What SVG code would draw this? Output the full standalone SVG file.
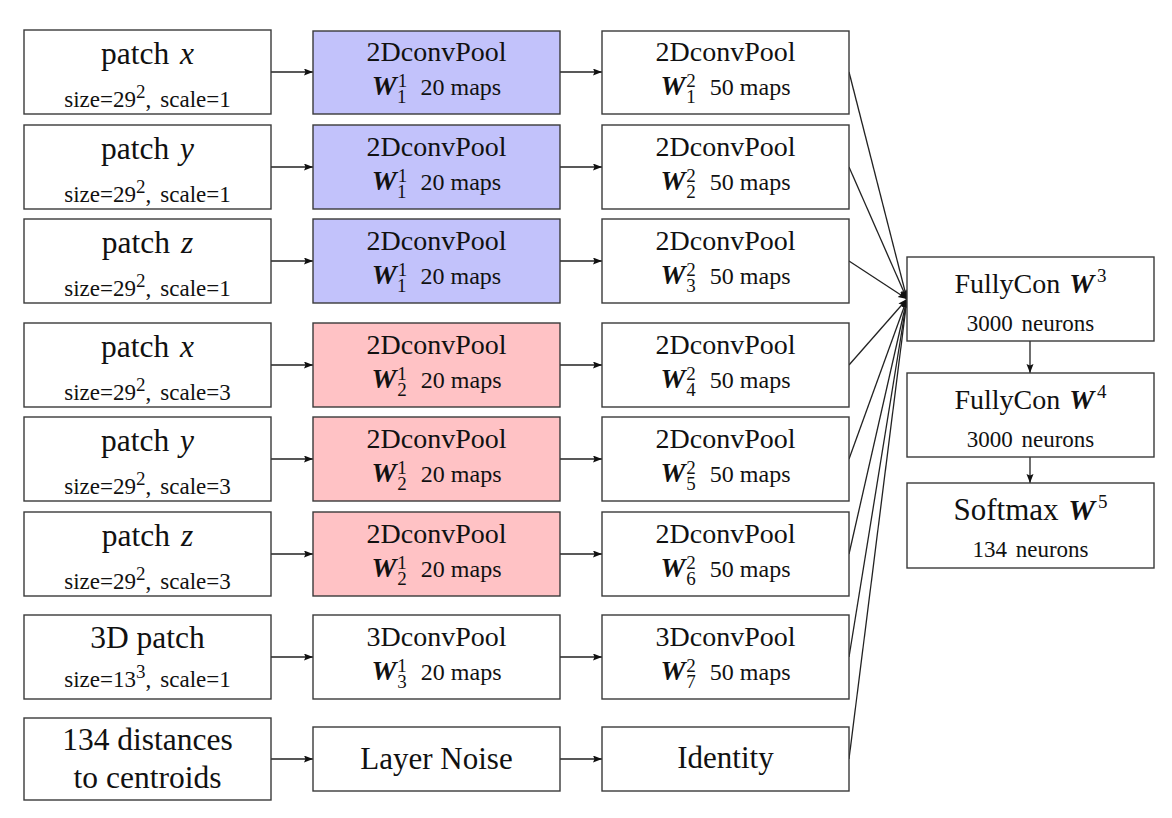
<svg xmlns="http://www.w3.org/2000/svg" width="1172" height="818" viewBox="0 0 1172 818">
<defs>
<marker id="ah" markerWidth="10" markerHeight="8" refX="9" refY="3.5" orient="auto" markerUnits="userSpaceOnUse">
<path d="M0,0 L9,3.5 L0,7 L1.5,3.5 z" fill="#111"/>
</marker>
<style>
.box{fill:#fff;stroke:#3a3a3a;stroke-width:1.4}
.blue{fill:#c2c2fb}
.red{fill:#ffc2c5}
text{font-family:"Liberation Serif","Times New Roman",serif;fill:#111;text-anchor:middle}
.t31{font-size:31.5px}
.t28{font-size:28px}
.t30{font-size:31px}
.s22{font-size:23px}
.s24{font-size:24px}
.it{font-style:italic}
.W{font-size:28px;font-weight:bold;font-style:italic}
.sc{font-size:19px}
.c line{stroke:#222;stroke-width:1.3;fill:none;marker-end:url(#ah)}
</style>
</defs>
<rect width="1172" height="818" fill="#fff"/>

<g id="connectors" class="c">
<line x1="271" y1="72" x2="313" y2="72"/>
<line x1="271" y1="167" x2="313" y2="167"/>
<line x1="271" y1="261" x2="313" y2="261"/>
<line x1="271" y1="365" x2="313" y2="365"/>
<line x1="271" y1="459" x2="313" y2="459"/>
<line x1="271" y1="554" x2="313" y2="554"/>
<line x1="271" y1="657" x2="313" y2="657"/>
<line x1="271" y1="759" x2="313" y2="759"/>
<line x1="560" y1="72" x2="602" y2="72"/>
<line x1="560" y1="167" x2="602" y2="167"/>
<line x1="560" y1="261" x2="602" y2="261"/>
<line x1="560" y1="365" x2="602" y2="365"/>
<line x1="560" y1="459" x2="602" y2="459"/>
<line x1="560" y1="554" x2="602" y2="554"/>
<line x1="560" y1="657" x2="602" y2="657"/>
<line x1="560" y1="759" x2="602" y2="759"/>
<line x1="849" y1="72" x2="907" y2="299"/>
<line x1="849" y1="167" x2="907" y2="299"/>
<line x1="849" y1="261" x2="907" y2="299"/>
<line x1="849" y1="365" x2="907" y2="299"/>
<line x1="849" y1="459" x2="907" y2="299"/>
<line x1="849" y1="554" x2="907" y2="299"/>
<line x1="849" y1="657" x2="907" y2="299"/>
<line x1="849" y1="759" x2="907" y2="299"/>
<line x1="1030" y1="341" x2="1030" y2="373"/>
<line x1="1030" y1="457" x2="1030" y2="483"/>
</g>

<!-- Left column -->
<g id="in1"><rect class="box" x="24" y="30" width="247" height="84"/>
<text class="t31" x="147.5" y="64">patch <tspan class="it" dx="3">x</tspan></text>
<text class="s22" x="147.5" y="107">size=29<tspan class="sc" dy="-9">2</tspan><tspan dy="9">,</tspan><tspan dx="9">scale=1</tspan></text></g>
<g id="in2"><rect class="box" x="24" y="125" width="247" height="84"/>
<text class="t31" x="147.5" y="159">patch <tspan class="it" dx="3">y</tspan></text>
<text class="s22" x="147.5" y="202">size=29<tspan class="sc" dy="-9">2</tspan><tspan dy="9">,</tspan><tspan dx="9">scale=1</tspan></text></g>
<g id="in3"><rect class="box" x="24" y="219" width="247" height="84"/>
<text class="t31" x="147.5" y="253">patch <tspan class="it" dx="3">z</tspan></text>
<text class="s22" x="147.5" y="296">size=29<tspan class="sc" dy="-9">2</tspan><tspan dy="9">,</tspan><tspan dx="9">scale=1</tspan></text></g>
<g id="in4"><rect class="box" x="24" y="323" width="247" height="84"/>
<text class="t31" x="147.5" y="357">patch <tspan class="it" dx="3">x</tspan></text>
<text class="s22" x="147.5" y="400">size=29<tspan class="sc" dy="-9">2</tspan><tspan dy="9">,</tspan><tspan dx="9">scale=3</tspan></text></g>
<g id="in5"><rect class="box" x="24" y="417" width="247" height="84"/>
<text class="t31" x="147.5" y="451">patch <tspan class="it" dx="3">y</tspan></text>
<text class="s22" x="147.5" y="494">size=29<tspan class="sc" dy="-9">2</tspan><tspan dy="9">,</tspan><tspan dx="9">scale=3</tspan></text></g>
<g id="in6"><rect class="box" x="24" y="512" width="247" height="84"/>
<text class="t31" x="147.5" y="546">patch <tspan class="it" dx="3">z</tspan></text>
<text class="s22" x="147.5" y="589">size=29<tspan class="sc" dy="-9">2</tspan><tspan dy="9">,</tspan><tspan dx="9">scale=3</tspan></text></g>
<g id="in7"><rect class="box" x="24" y="615" width="247" height="84"/>
<text class="t31" x="147.5" y="648">3D patch</text>
<text class="s22" x="147.5" y="687">size=13<tspan class="sc" dy="-9">3</tspan><tspan dy="9">,</tspan><tspan dx="9">scale=1</tspan></text></g>
<g id="in8"><rect class="box" x="24" y="718" width="247" height="82"/>
<text class="t31" x="147.5" y="750">134 distances</text>
<text class="t31" x="147.5" y="788">to centroids</text></g>

<!-- Middle column -->
<g id="c1_1"><rect class="box blue" x="313" y="31" width="247" height="83"/>
<text class="t28" x="436.5" y="61">2DconvPool</text>
<text class="s24" x="436.5" y="95"><tspan class="W">W</tspan><tspan class="sc" dx="1" dy="-8">1</tspan><tspan class="sc" dx="-9.5" dy="16">1</tspan><tspan dx="14" dy="-8">20</tspan><tspan dx="6">maps</tspan></text></g>
<g id="c1_2"><rect class="box blue" x="313" y="125" width="247" height="84"/>
<text class="t28" x="436.5" y="156">2DconvPool</text>
<text class="s24" x="436.5" y="190"><tspan class="W">W</tspan><tspan class="sc" dx="1" dy="-8">1</tspan><tspan class="sc" dx="-9.5" dy="16">1</tspan><tspan dx="14" dy="-8">20</tspan><tspan dx="6">maps</tspan></text></g>
<g id="c1_3"><rect class="box blue" x="313" y="219" width="247" height="84"/>
<text class="t28" x="436.5" y="250">2DconvPool</text>
<text class="s24" x="436.5" y="284"><tspan class="W">W</tspan><tspan class="sc" dx="1" dy="-8">1</tspan><tspan class="sc" dx="-9.5" dy="16">1</tspan><tspan dx="14" dy="-8">20</tspan><tspan dx="6">maps</tspan></text></g>
<g id="c1_4"><rect class="box red" x="313" y="323" width="247" height="84"/>
<text class="t28" x="436.5" y="354">2DconvPool</text>
<text class="s24" x="436.5" y="388"><tspan class="W">W</tspan><tspan class="sc" dx="1" dy="-8">1</tspan><tspan class="sc" dx="-9.5" dy="16">2</tspan><tspan dx="14" dy="-8">20</tspan><tspan dx="6">maps</tspan></text></g>
<g id="c1_5"><rect class="box red" x="313" y="417" width="247" height="84"/>
<text class="t28" x="436.5" y="448">2DconvPool</text>
<text class="s24" x="436.5" y="482"><tspan class="W">W</tspan><tspan class="sc" dx="1" dy="-8">1</tspan><tspan class="sc" dx="-9.5" dy="16">2</tspan><tspan dx="14" dy="-8">20</tspan><tspan dx="6">maps</tspan></text></g>
<g id="c1_6"><rect class="box red" x="313" y="512" width="247" height="84"/>
<text class="t28" x="436.5" y="543">2DconvPool</text>
<text class="s24" x="436.5" y="577"><tspan class="W">W</tspan><tspan class="sc" dx="1" dy="-8">1</tspan><tspan class="sc" dx="-9.5" dy="16">2</tspan><tspan dx="14" dy="-8">20</tspan><tspan dx="6">maps</tspan></text></g>
<g id="c1_7"><rect class="box" x="313" y="615" width="247" height="84"/>
<text class="t28" x="436.5" y="646">3DconvPool</text>
<text class="s24" x="436.5" y="680"><tspan class="W">W</tspan><tspan class="sc" dx="1" dy="-8">1</tspan><tspan class="sc" dx="-9.5" dy="16">3</tspan><tspan dx="14" dy="-8">20</tspan><tspan dx="6">maps</tspan></text></g>
<g id="noise"><rect class="box" x="313" y="727" width="247" height="64"/>
<text class="t30" x="436.5" y="769">Layer Noise</text></g>

<!-- Third column -->
<g id="c2_1"><rect class="box" x="602" y="31" width="247" height="83"/>
<text class="t28" x="725.5" y="61">2DconvPool</text>
<text class="s24" x="725.5" y="95"><tspan class="W">W</tspan><tspan class="sc" dx="1" dy="-8">2</tspan><tspan class="sc" dx="-9.5" dy="16">1</tspan><tspan dx="14" dy="-8">50</tspan><tspan dx="6">maps</tspan></text></g>
<g id="c2_2"><rect class="box" x="602" y="125" width="247" height="84"/>
<text class="t28" x="725.5" y="156">2DconvPool</text>
<text class="s24" x="725.5" y="190"><tspan class="W">W</tspan><tspan class="sc" dx="1" dy="-8">2</tspan><tspan class="sc" dx="-9.5" dy="16">2</tspan><tspan dx="14" dy="-8">50</tspan><tspan dx="6">maps</tspan></text></g>
<g id="c2_3"><rect class="box" x="602" y="219" width="247" height="84"/>
<text class="t28" x="725.5" y="250">2DconvPool</text>
<text class="s24" x="725.5" y="284"><tspan class="W">W</tspan><tspan class="sc" dx="1" dy="-8">2</tspan><tspan class="sc" dx="-9.5" dy="16">3</tspan><tspan dx="14" dy="-8">50</tspan><tspan dx="6">maps</tspan></text></g>
<g id="c2_4"><rect class="box" x="602" y="323" width="247" height="84"/>
<text class="t28" x="725.5" y="354">2DconvPool</text>
<text class="s24" x="725.5" y="388"><tspan class="W">W</tspan><tspan class="sc" dx="1" dy="-8">2</tspan><tspan class="sc" dx="-9.5" dy="16">4</tspan><tspan dx="14" dy="-8">50</tspan><tspan dx="6">maps</tspan></text></g>
<g id="c2_5"><rect class="box" x="602" y="417" width="247" height="84"/>
<text class="t28" x="725.5" y="448">2DconvPool</text>
<text class="s24" x="725.5" y="482"><tspan class="W">W</tspan><tspan class="sc" dx="1" dy="-8">2</tspan><tspan class="sc" dx="-9.5" dy="16">5</tspan><tspan dx="14" dy="-8">50</tspan><tspan dx="6">maps</tspan></text></g>
<g id="c2_6"><rect class="box" x="602" y="512" width="247" height="84"/>
<text class="t28" x="725.5" y="543">2DconvPool</text>
<text class="s24" x="725.5" y="577"><tspan class="W">W</tspan><tspan class="sc" dx="1" dy="-8">2</tspan><tspan class="sc" dx="-9.5" dy="16">6</tspan><tspan dx="14" dy="-8">50</tspan><tspan dx="6">maps</tspan></text></g>
<g id="c2_7"><rect class="box" x="602" y="615" width="247" height="84"/>
<text class="t28" x="725.5" y="646">3DconvPool</text>
<text class="s24" x="725.5" y="680"><tspan class="W">W</tspan><tspan class="sc" dx="1" dy="-8">2</tspan><tspan class="sc" dx="-9.5" dy="16">7</tspan><tspan dx="14" dy="-8">50</tspan><tspan dx="6">maps</tspan></text></g>
<g id="identity"><rect class="box" x="602" y="727" width="247" height="64"/>
<text class="t30" x="725.5" y="768">Identity</text></g>

<!-- Right column -->
<g id="fc3"><rect class="box" x="907" y="257" width="247" height="84"/>
<text class="t28" x="1030.5" y="293">FullyCon <tspan class="W" dx="2">W</tspan><tspan class="sc" dx="3" dy="-11">3</tspan></text>
<text class="s22" x="1030.5" y="331">3000 <tspan dx="3">neurons</tspan></text></g>
<g id="fc4"><rect class="box" x="907" y="373" width="247" height="84"/>
<text class="t28" x="1030.5" y="409">FullyCon <tspan class="W" dx="2">W</tspan><tspan class="sc" dx="3" dy="-11">4</tspan></text>
<text class="s22" x="1030.5" y="447">3000 <tspan dx="3">neurons</tspan></text></g>
<g id="softmax"><rect class="box" x="907" y="483" width="247" height="85"/>
<text class="t30" x="1030.5" y="520">Softmax <tspan class="W" dx="2" style="font-size:30px">W</tspan><tspan class="sc" dx="3" dy="-12">5</tspan></text>
<text class="s22" x="1030.5" y="557">134 <tspan dx="3">neurons</tspan></text></g>
</svg>
